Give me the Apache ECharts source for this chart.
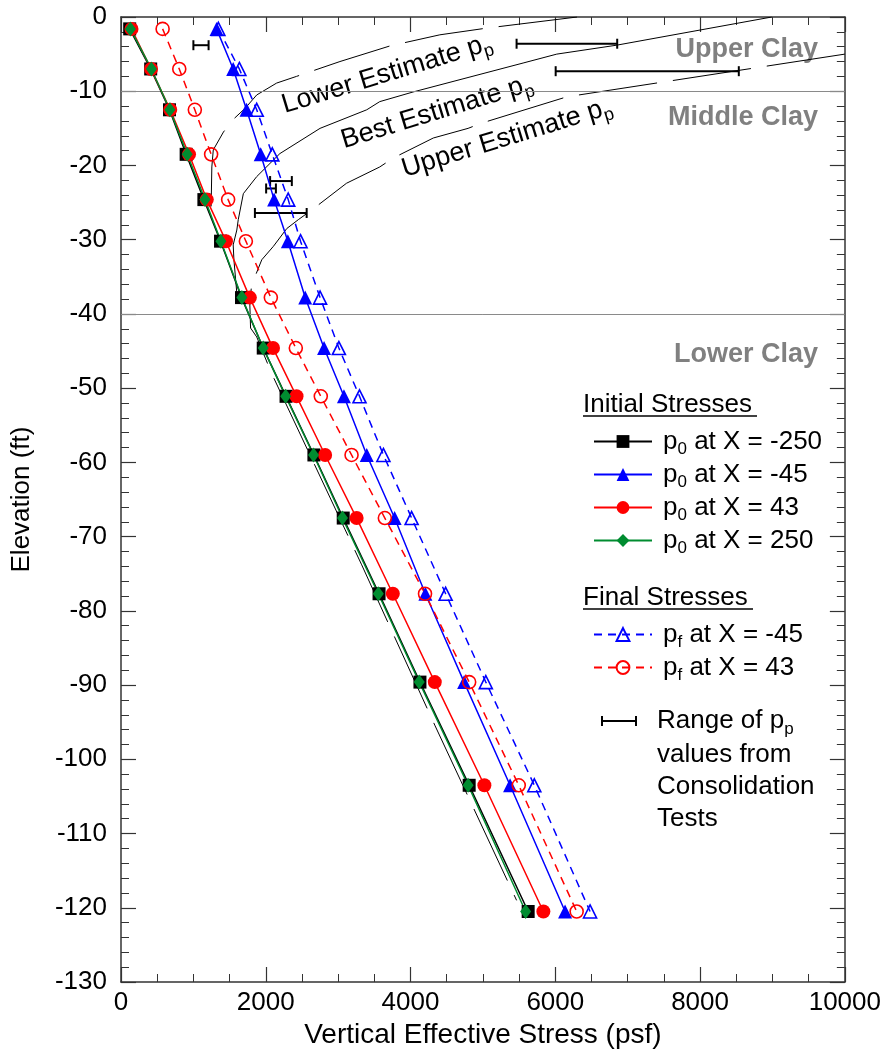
<!DOCTYPE html>
<html>
<head>
<meta charset="utf-8">
<script src="https://cdn.jsdelivr.net/npm/echarts@6/dist/echarts.min.js"></script>
<style>
  html, body { margin: 0; padding: 0; background: #fff; }
  #chart { width: 884px; height: 1059px; }
</style>
</head>
<body>
<div id="chart"></div>
<script>
// Sample elevations (ft) shared by all stress profiles
const elevations = [-1.6, -7.0, -12.5, -18.5, -24.6, -30.2, -37.8, -44.6, -51.1, -59.0, -67.5, -77.7, -89.6, -103.5, -120.5];

// Initial vertical effective stress p0 (psf)
const p0_Xm250 = [120, 410, 670, 900, 1145, 1375, 1665, 1965, 2280, 2665, 3070, 3565, 4130, 4810, 5625];
const p0_Xm45  = [1320, 1550, 1735, 1930, 2115, 2305, 2545, 2805, 3080, 3395, 3780, 4205, 4740, 5375, 6135];
const p0_X43   = [145, 415, 680, 940, 1185, 1450, 1780, 2100, 2425, 2820, 3255, 3755, 4335, 5020, 5835];
const p0_X250  = [130, 420, 675, 915, 1160, 1380, 1670, 1965, 2275, 2660, 3060, 3555, 4120, 4795, 5590];

// Final vertical effective stress pf (psf)
const pf_Xm45 = [1345, 1635, 1875, 2090, 2310, 2480, 2750, 3010, 3295, 3625, 4015, 4485, 5040, 5710, 6480];
const pf_X43  = [575, 805, 1020, 1245, 1480, 1725, 2070, 2415, 2760, 3185, 3645, 4200, 4810, 5495, 6295];

// Preconsolidation pressure profiles (stress psf, elevation ft)
const lowerEstStress = [6300, 5050, 4405, 3715, 3025, 2425, 2150, 1875, 1715, 1550, 1415, 1275, 1255, 1245, 1255];
const lowerEstElev   = [0, -1.5, -2.4, -3.9, -6.0, -8.0, -8.9, -10.5, -12.3, -13.8, -15.5, -17.9, -20.2, -25.6, -27.3];
const bestEstStress  = [8990, 6845, 6020, 5555, 4035, 3575, 3395, 2750, 2195, 1875, 1690, 1620, 1600, 1550, 1560, 1600, 1700];
const bestEstElev    = [0, -3.8, -5.0, -6.2, -10.1, -11.4, -12.5, -15.0, -18.4, -21.5, -23.8, -27.3, -28.7, -30.7, -32.7, -37.2, -38.5];
const upperEstStress = [10000, 6160, 4980, 4795, 4315, 3760, 3575, 3115, 2635, 2450, 2290, 2105, 1945, 1850, 1805, 1780, 1790, 1875, 2080, 3325, 4335, 5465];
const upperEstElev   = [-5.0, -10.75, -14.3, -15.0, -16.3, -19.0, -20.2, -22.4, -26.0, -27.3, -28.5, -30.9, -32.7, -35.0, -35.9, -38.8, -41.9, -43.1, -48.0, -73.8, -95.4, -119.0];

// Range of pp from consolidation tests
const ppElev = [-3.8, -3.6, -7.3, -22.1, -23.1, -26.4];
const ppLow  = [1000, 5465, 6005, 2060, 2005, 1850];
const ppHigh = [1210, 6855, 8535, 2360, 2140, 2565];

// Stratigraphy boundaries
const layerBounds = [-10, -40];

const FONT = '"Liberation Sans", Arial, Helvetica, sans-serif';
const AXIS_COLOR = '#333';

const pairs = (xs, ys) => xs.map((x, i) => [x, ys[i]]);
const profile = xs => xs.map((x, i) => [x, elevations[i]]);

const subRich = {
  a: { fontSize: 26, fontFamily: FONT, color: '#000', lineHeight: 36 },
  s: { fontSize: 17, fontFamily: FONT, color: '#000', lineHeight: 20, padding: [16, 0, 0, 0] }
};

function legendLabel(name) {
  // name like "p0 at X = -250" -> p with subscript
  return '{a|p}{s|' + name.charAt(1) + '}{a|' + name.slice(2) + '}';
}

const chart = echarts.init(document.getElementById('chart'), null, { renderer: 'canvas' });

function xAxisBase(pos) {
  return {
    type: 'value', position: pos, min: 0, max: 10000, interval: 2000,
    axisLine: { show: true, onZero: false, lineStyle: { color: AXIS_COLOR, width: 1.5 } },
    axisTick: { show: true, inside: true, length: 15, lineStyle: { color: AXIS_COLOR, width: 1.2 } },
    minorTick: { show: true, splitNumber: 4, length: 8, lineStyle: { color: AXIS_COLOR, width: 1 } },
    splitLine: { show: false }
  };
}
function yAxisBase(pos) {
  return {
    type: 'value', position: pos, min: -130, max: 0, interval: 10,
    axisLine: { show: true, onZero: false, lineStyle: { color: AXIS_COLOR, width: 1.5 } },
    axisTick: { show: true, inside: true, length: 15, lineStyle: { color: AXIS_COLOR, width: 1.2 } },
    minorTick: { show: true, splitNumber: 5, length: 8, lineStyle: { color: AXIS_COLOR, width: 1 } },
    splitLine: { show: false }
  };
}

const bottomX = Object.assign(xAxisBase('bottom'), {
  axisLabel: { fontSize: 26, fontFamily: FONT, color: '#000', margin: 8, formatter: v => String(v) },
  name: 'Vertical Effective Stress (psf)', nameLocation: 'middle', nameGap: 39,
  nameTextStyle: { fontSize: 28, fontFamily: FONT, color: '#000' }
});
const topX = Object.assign(xAxisBase('top'), { axisLabel: { show: false } });
const leftY = Object.assign(yAxisBase('left'), {
  axisLabel: { fontSize: 26, fontFamily: FONT, color: '#000', margin: 14, formatter: v => String(v) },
  name: 'Elevation (ft)', nameLocation: 'middle', nameGap: 86,
  nameTextStyle: { fontSize: 26, fontFamily: FONT, color: '#000' }
});
const rightY = Object.assign(yAxisBase('right'), { axisLabel: { show: false } });

function dataSeries(name, values, color, symbol, size, dashed, hollow) {
  return {
    type: 'line', name: name, data: profile(values),
    symbol: symbol, symbolSize: size,
    showAllSymbol: true,
    lineStyle: { color: color, width: 1.5, type: dashed ? [8, 6] : 'solid' },
    itemStyle: hollow
      ? { color: 'rgba(255,255,255,0)', borderColor: color, borderWidth: 1.6 }
      : { color: color, borderWidth: 0 },
    emphasis: { disabled: true },
    animation: false,
    z: 5
  };
}

function estimateSeries(name, pts, dash) {
  return {
    type: 'line', name: name, data: pts,
    symbol: 'none',
    lineStyle: { color: '#000', width: 1, type: dash ? [79, 16] : 'solid' },
    emphasis: { disabled: true },
    animation: false,
    z: 2
  };
}

const captionRich = {
  a: { fontSize: 27, fontFamily: FONT, color: '#000', lineHeight: 36 },
  s: { fontSize: 18, fontFamily: FONT, color: '#000', lineHeight: 20, padding: [16, 0, 0, 0] }
};
const captionAngle = 17 * Math.PI / 180;

const option = {
  backgroundColor: '#fff',
  animation: false,
  textStyle: { fontFamily: FONT },
  grid: { left: 121, right: 39, top: 17, bottom: 77, containLabel: false },
  xAxis: [bottomX, topX],
  yAxis: [leftY, rightY],
  legend: [
    {
      data: ['p0 at X = -250', 'p0 at X = -45', 'p0 at X = 43', 'p0 at X = 250'],
      orient: 'vertical', left: 588, top: 420,
      itemWidth: 58, itemHeight: 16, itemGap: 0,
      formatter: legendLabel,
      textStyle: { rich: subRich, padding: [0, 0, 0, 6] },
      selectedMode: false
    },
    {
      data: ['pf at X = -45', 'pf at X = 43'],
      orient: 'vertical', left: 588, top: 613,
      itemWidth: 58, itemHeight: 16, itemGap: 0,
      formatter: legendLabel,
      textStyle: { rich: subRich, padding: [0, 0, 0, 6] },
      selectedMode: false
    }
  ],
  series: [
    estimateSeries('Lower Estimate pp', pairs(lowerEstStress, lowerEstElev), true),
    estimateSeries('Best Estimate pp', pairs(bestEstStress, bestEstElev), false),
    estimateSeries('Upper Estimate pp', pairs(upperEstStress, upperEstElev), true),
    {
      type: 'line', name: 'layers', data: [], symbol: 'none', silent: true,
      markLine: {
        silent: true, symbol: 'none', animation: false,
        label: { show: false },
        lineStyle: { color: '#8a8a8a', width: 1, type: 'solid' },
        data: layerBounds.map(v => ({ yAxis: v }))
      },
      z: 1
    },
    {
      type: 'custom', name: 'Range of pp',
      data: ppElev.map((e, i) => [e, ppLow[i], ppHigh[i]]),
      encode: { x: [1, 2], y: 0 },
      renderItem: function (params, api) {
        const y = api.value(0), lo = api.value(1), hi = api.value(2);
        const a = api.coord([lo, y]), b = api.coord([hi, y]);
        const h = 5, st = { stroke: '#000', lineWidth: 2 };
        return {
          type: 'group', children: [
            { type: 'line', shape: { x1: a[0], y1: a[1], x2: b[0], y2: b[1] }, style: st },
            { type: 'line', shape: { x1: a[0], y1: a[1] - h, x2: a[0], y2: a[1] + h }, style: st },
            { type: 'line', shape: { x1: b[0], y1: b[1] - h, x2: b[0], y2: b[1] + h }, style: st }
          ]
        };
      },
      animation: false, z: 4
    },
    dataSeries('p0 at X = -250', p0_Xm250, '#000000', 'rect', 13, false, false),
    dataSeries('p0 at X = -45', p0_Xm45, '#0000ff', 'triangle', 14, false, false),
    dataSeries('p0 at X = 43', p0_X43, '#ff0000', 'circle', 14, false, false),
    dataSeries('p0 at X = 250', p0_X250, '#008c30', 'diamond', [11, 15], false, false),
    dataSeries('pf at X = -45', pf_Xm45, '#0000ff', 'triangle', 13, true, true),
    dataSeries('pf at X = 43', pf_X43, '#ff0000', 'circle', 13, true, true)
  ],
  graphic: [
    // Soil layer names
    { type: 'text', x: 818, y: 50, style: { text: 'Upper Clay', font: 'bold 27px ' + FONT, fill: '#808080', textAlign: 'right', textVerticalAlign: 'middle' } },
    { type: 'text', x: 818, y: 118, style: { text: 'Middle Clay', font: 'bold 27px ' + FONT, fill: '#808080', textAlign: 'right', textVerticalAlign: 'middle' } },
    { type: 'text', x: 818, y: 355, style: { text: 'Lower Clay', font: 'bold 27px ' + FONT, fill: '#808080', textAlign: 'right', textVerticalAlign: 'middle' } },
    // Profile captions
    { type: 'text', x: 387, y: 74, rotation: captionAngle,
      style: { text: '{a|Lower Estimate p}{s|p}', rich: captionRich, textAlign: 'center', textVerticalAlign: 'middle' } },
    { type: 'text', x: 437, y: 112, rotation: captionAngle,
      style: { text: '{a|Best Estimate p}{s|p}', rich: captionRich, textAlign: 'center', textVerticalAlign: 'middle' } },
    { type: 'text', x: 507, y: 138, rotation: captionAngle,
      style: { text: '{a|Upper Estimate p}{s|p}', rich: captionRich, textAlign: 'center', textVerticalAlign: 'middle' } },
    // Legend group headings
    { type: 'text', x: 583, y: 405, style: { text: 'Initial Stresses', font: '26px ' + FONT, fill: '#000', textAlign: 'left', textVerticalAlign: 'middle' } },
    { type: 'line', shape: { x1: 583, y1: 416, x2: 757, y2: 416 }, style: { stroke: '#000', lineWidth: 1.5 } },
    { type: 'text', x: 583, y: 598, style: { text: 'Final Stresses', font: '26px ' + FONT, fill: '#000', textAlign: 'left', textVerticalAlign: 'middle' } },
    { type: 'line', shape: { x1: 583, y1: 609, x2: 753, y2: 609 }, style: { stroke: '#000', lineWidth: 1.5 } },
    // Legend key for the consolidation test ranges
    { type: 'line', shape: { x1: 602, y1: 721, x2: 636, y2: 721 }, style: { stroke: '#000', lineWidth: 2 } },
    { type: 'line', shape: { x1: 602, y1: 716, x2: 602, y2: 726 }, style: { stroke: '#000', lineWidth: 2 } },
    { type: 'line', shape: { x1: 636, y1: 716, x2: 636, y2: 726 }, style: { stroke: '#000', lineWidth: 2 } },
    { type: 'text', x: 657, y: 703,
      style: { text: '{a|Range of p}{s|p}\n{b|values from}\n{b|Consolidation}\n{b|Tests}',
        rich: { a: subRich.a, s: subRich.s, b: { fontSize: 26, fontFamily: FONT, color: '#000', lineHeight: 32 } },
        textAlign: 'left', textVerticalAlign: 'top' } }
  ]
};

chart.setOption(option);
</script>
</body>
</html>
